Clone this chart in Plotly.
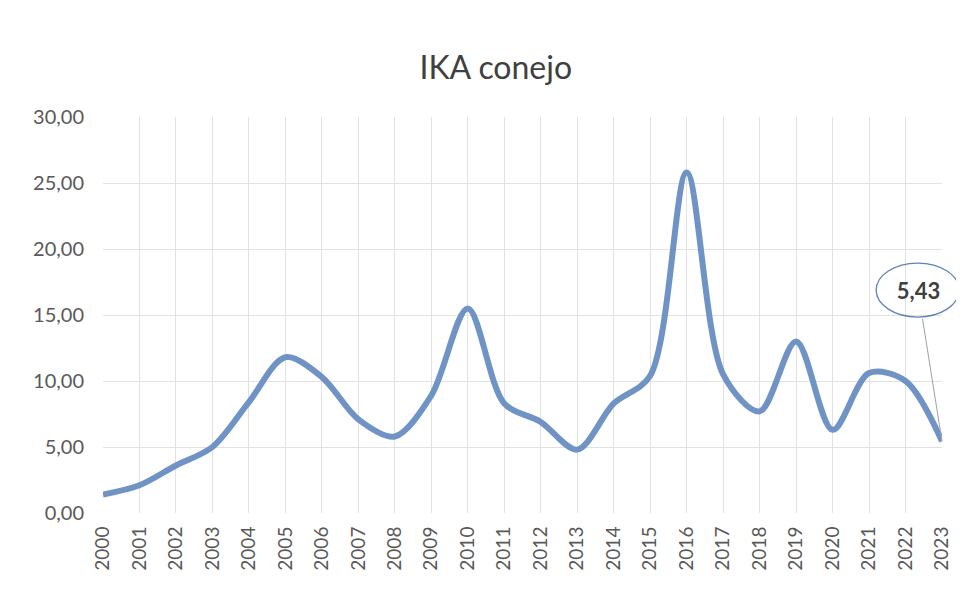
import plotly.graph_objects as go

years = list(range(2000, 2024))
ika = [1.4, 2.1, 3.6, 5.0, 8.4, 11.8, 10.3, 7.1, 5.8, 8.9, 15.5, 8.3,
       6.9, 4.8, 8.3, 10.4, 25.8, 10.5, 7.7, 13.0, 6.3, 10.6, 10.0, 5.43]
y_ticks = [0, 5, 10, 15, 20, 25, 30]

line_color = "#7093c6"
grid_color = "#e2e2e2"
text_color = "#595959"
font_family = "Lato, 'Open Sans', sans-serif"

fig = go.Figure()
fig.add_trace(go.Scatter(
    x=years, y=ika, mode="lines",
    line=dict(color=line_color, width=6, shape="spline", smoothing=0.9),
    showlegend=False, hoverinfo="x+y",
))

last_x, last_y = years[-1], ika[-1]
fig.add_annotation(
    x=last_x, y=last_y, xref="x", yref="y",
    text="<b>5,43</b>", showarrow=True, arrowhead=0, arrowwidth=1,
    arrowcolor="#a0a0a0", ax=-24, ay=-151, width=83, height=54,
    font=dict(family=font_family, size=22, color="#404040"),
    bordercolor="rgba(0,0,0,0)",
)
# callout ellipse (paper-referenced so it is not clipped by the plot area)
fig.add_shape(
    type="circle", xref="paper", yref="paper", xsizemode="pixel", ysizemode="pixel",
    xanchor=0.971, yanchor=0.563, x0=-41.5, x1=41.5, y0=-27, y1=27,
    line=dict(color="#5f82b8", width=1.3), fillcolor="rgba(255,255,255,0)",
)

fig.update_layout(
    width=964, height=600,
    paper_bgcolor="white", plot_bgcolor="white",
    separators=",.",
    margin=dict(l=95, r=30, t=109, b=95),
    title=dict(text="IKA conejo", x=0.506, xanchor="center", y=0.9, yanchor="middle",
               font=dict(family=font_family, size=32, color="#404040")),
    font=dict(family=font_family, color=text_color),
    xaxis=dict(
        range=[2000, 2023], tickmode="array", tickvals=years,
        ticktext=[str(y) for y in years], tickangle=-90,
        tickfont=dict(size=19, color=text_color),
        showgrid=True, gridcolor=grid_color, gridwidth=1,
        zeroline=False, showline=False, ticks="outside", ticklen=5,
        tickcolor="rgba(0,0,0,0)",
    ),
    yaxis=dict(
        range=[0, 30], tickmode="array", tickvals=y_ticks, tickformat=".2f",
        tickfont=dict(size=20, color=text_color),
        showgrid=True, gridcolor=grid_color, gridwidth=1,
        zeroline=False, showline=False, ticks="outside", ticklen=14,
        tickcolor="rgba(0,0,0,0)",
    ),
)

fig.write_html("out.html")
